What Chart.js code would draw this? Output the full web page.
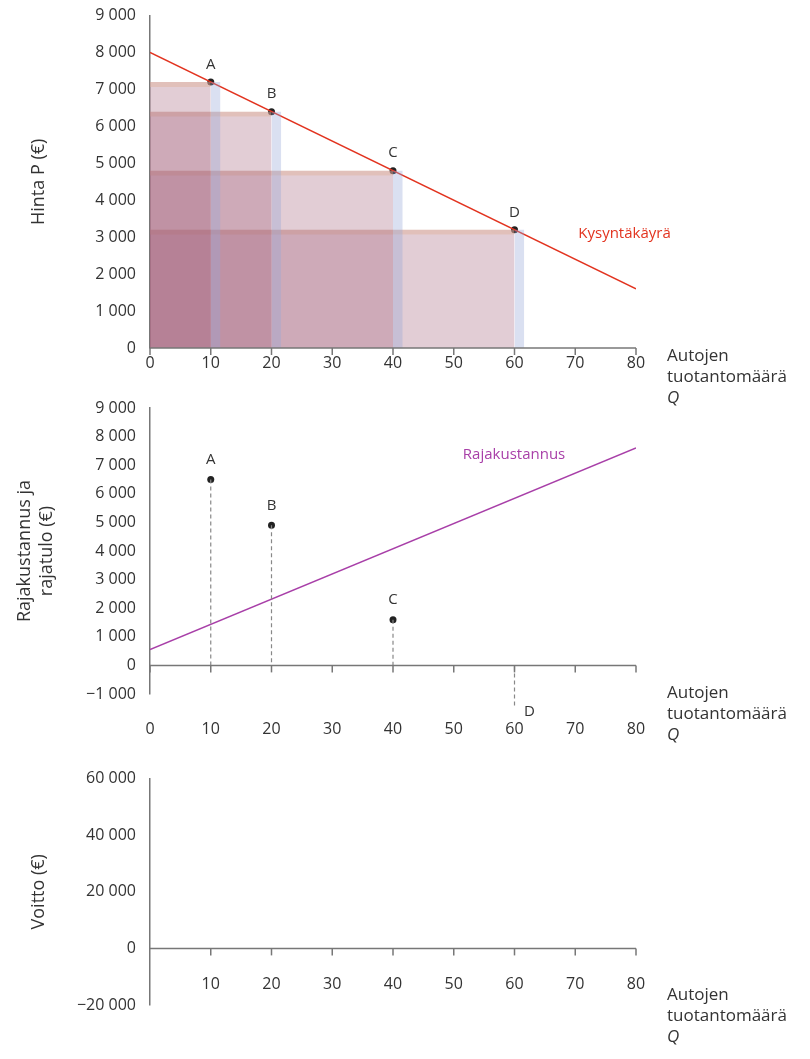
<!DOCTYPE html>
<html><head><meta charset="utf-8">
<script src="https://cdn.jsdelivr.net/npm/chart.js@4"></script>
<style>
body{margin:0;background:#fff;width:810px;height:1059px;position:relative;font-family:"Open Sans";}
.c{position:absolute;left:0;width:810px;}
</style></head>
<body>
<div class="c" style="top:0;height:420px"><canvas id="c1"></canvas></div>
<div class="c" style="top:392px;height:372px"><canvas id="c2"></canvas></div>
<div class="c" style="top:763px;height:296px"><canvas id="c3"></canvas></div>
<script>
// data
const pisteet   = ['A', 'B', 'C', 'D'];
const maarat    = [10, 20, 40, 60];          // Q
const hinnat    = [7200, 6400, 4800, 3200];  // P on demand curve
const rajatulo  = [6500, 4900, 1600, -1400]; // MR points
const kysynta   = [{x: 0, y: 8000}, {x: 80, y: 1600}];
const rajakust  = [{x: 0, y: 550}, {x: 80, y: 7600}];
const xTicks    = [0, 10, 20, 30, 40, 50, 60, 70, 80];
const xTicks3   = [10, 20, 30, 40, 50, 60, 70, 80];

const GREY = '#777';
const TXT = '#333';
Chart.defaults.font = {family: '"Open Sans"', size: 16};
Chart.defaults.color = TXT;
Chart.defaults.animation = false;

const fmt = v => (v < 0 ? '\u2212' : '') + Math.abs(v).toLocaleString('en').replace(/,/g, ' ');

// akseli nollakohtaan + tekstit
const extras = {
  id: 'extras',
  afterDatasetsDraw(chart, args, o) {
    const {ctx, scales: {x, y}} = chart;
    ctx.save();
    const y0 = y.getPixelForValue(0);
    ctx.strokeStyle = GREY; ctx.lineWidth = 1.5;
    ctx.beginPath(); ctx.moveTo(x.left, y0); ctx.lineTo(x.right, y0); ctx.stroke();
    o.ticks.forEach(t => {
      const px = x.getPixelForValue(t);
      ctx.beginPath(); ctx.moveTo(px, y0); ctx.lineTo(px, y0 + 7); ctx.stroke();
    });
    ctx.font = '15px "Open Sans"'; ctx.textBaseline = 'bottom';
    (o.labels || []).forEach(l => {
      ctx.fillStyle = l.c || TXT; ctx.textAlign = l.a || 'center';
      ctx.fillText(l.t, x.getPixelForValue(l.x) + (l.dx || 0), y.getPixelForValue(l.y) + (l.dy || 0));
    });
    // x-akselin otsikko
    ctx.fillStyle = TXT; ctx.textAlign = 'left'; ctx.textBaseline = 'middle';
    ctx.font = '17px "Open Sans"';
    const tx = x.right + 31, ty = o.titleY;
    ctx.fillText('Autojen', tx, ty);
    ctx.fillText('tuotantomäärä', tx, ty + 21);
    ctx.font = 'italic 17px "Open Sans"';
    ctx.fillText('Q', tx, ty + 42);
    ctx.restore();
  }
};

function axes(yMin, yMax, step, yTitle, ticksX, titleY, padTop, xHeight, titlePad) {
  return {
    responsive: true, maintainAspectRatio: false,
    layout: {padding: {top: padTop, right: 174, left: 0, bottom: 0}},
    plugins: {legend: {display: false}, tooltip: {enabled: false},
      extras: {ticks: ticksX, titleY: titleY, labels: []}},
    scales: {
      x: {type: 'linear', min: 0, max: 80, grid: {display: false, drawTicks: false},
        border: {display: false},
        afterBuildTicks: s => { s.ticks = ticksX.map(v => ({value: v})); },
        afterFit: s => { s.height = xHeight; },
        ticks: {padding: 0, color: TXT, callback: v => v}},
      y: {min: yMin, max: yMax, grid: {display: false, drawTicks: true, tickLength: 8, tickColor: GREY, lineWidth: 1.5},
        border: {color: GREY, width: 1.5},
        afterBuildTicks: s => { const t = []; for (let v = yMin; v <= yMax; v += step) t.push({value: v}); s.ticks = t; },
        afterFit: s => { s.width = 150; },
        ticks: {color: TXT, padding: 6, callback: v => fmt(v)},
        title: {display: true, text: yTitle, color: TXT, font: {size: 18}, padding: {top: titlePad, bottom: 0}}}
    }
  };
}

// 1. kysyntä ja tulo-suorakulmiot
const ds1 = [];
maarat.forEach((q, i) => {
  const p = hinnat[i];
  ds1.push({data: [{x: 0, y: p}, {x: q, y: p}], fill: 'origin', backgroundColor: 'rgba(160,90,115,0.3)', borderWidth: 0, pointRadius: 0});
  ds1.push({data: [{x: 0, y: p}, {x: q, y: p}], fill: {value: p - 130}, backgroundColor: 'rgba(250,215,170,0.45)', borderWidth: 0, pointRadius: 0});
  ds1.push({data: [{x: q, y: p}, {x: q + 1.6, y: p}], fill: 'origin', backgroundColor: 'rgba(150,165,215,0.35)', borderWidth: 0, pointRadius: 0});
});
ds1.push({data: kysynta, borderColor: '#e2331f', borderWidth: 1.5, pointRadius: 0, fill: false});
ds1.push({data: maarat.map((q, i) => ({x: q, y: hinnat[i]})), showLine: false, pointRadius: 3.5, backgroundColor: '#222', borderWidth: 0});
const o1 = axes(0, 9000, 1000, 'Hinta P (€)', xTicks, 356, 10, 72, 28);
o1.scales.x.ticks.padding = 6;
o1.plugins.extras.labels = pisteet.map((t, i) => ({t, x: maarat[i], y: hinnat[i], dy: -10}))
  .concat([{t: 'Kysyntäkäyrä', x: 70.5, y: 2900, a: 'left', c: '#e2331f'}]);
new Chart(document.getElementById('c1'), {type: 'line', data: {datasets: ds1}, options: o1, plugins: [extras]});

// 2. rajakustannus ja rajatulo
const ds2 = [];
maarat.forEach((q, i) => {
  ds2.push({data: [{x: q, y: rajatulo[i]}, {x: q, y: 0}], borderColor: '#888', borderWidth: 1.2, borderDash: [4, 3], pointRadius: 0, fill: false, clip: false});
});
ds2.push({data: rajakust, borderColor: '#a83fa8', borderWidth: 1.5, pointRadius: 0, fill: false});
ds2.push({data: maarat.map((q, i) => ({x: q, y: rajatulo[i]})), showLine: false, pointRadius: 3.5, backgroundColor: '#222', borderWidth: 0, clip: false});
const o2 = axes(-1000, 9000, 1000, ['Rajakustannus ja', 'rajatulo (€)'], xTicks, 301, 16, 70, 14);
o2.scales.x.ticks.padding = 26;
o2.plugins.extras.labels = pisteet.map((t, i) => i < 3
  ? {t, x: maarat[i], y: rajatulo[i], dy: -12}
  : {t, x: maarat[i], y: rajatulo[i], dx: 15, dy: 14})
  .concat([{t: 'Rajakustannus', x: 51.5, y: 7100, a: 'left', c: '#a83fa8'}]);
new Chart(document.getElementById('c2'), {type: 'line', data: {datasets: ds2}, options: o2, plugins: [extras]});

// 3. voitto (tyhjä)
const o3 = axes(-20000, 60000, 20000, 'Voitto (€)', xTicks3, 232, 13, 54, 28);
o3.scales.x.position = {y: 0};
o3.scales.x.ticks.padding = 26;
o3.layout.padding.bottom = 54;
new Chart(document.getElementById('c3'), {type: 'line', data: {datasets: [{data: [], pointRadius: 0}]}, options: o3, plugins: [extras]});
</script>
</body></html>
